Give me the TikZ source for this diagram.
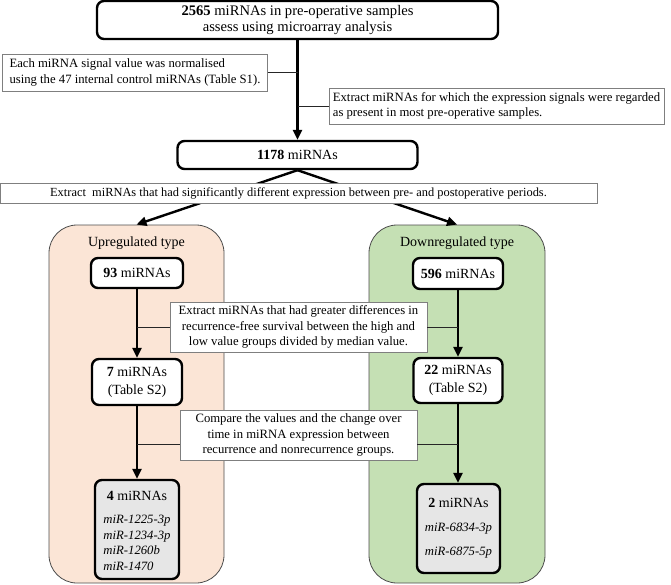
\documentclass[tikz,border=0pt]{standalone}
\usepackage{fontspec}
\setmainfont{Liberation Serif}
\usetikzlibrary{arrows.meta}
\definecolor{peach}{HTML}{FBE5D6}
\definecolor{lgreen}{HTML}{C5E0B4}
\definecolor{lgray}{HTML}{E6E6E6}
\definecolor{notegray}{HTML}{7F7F7F}
\begin{document}
\begin{tikzpicture}[x=1pt,y=-1pt,
  font=\fontsize{12.7}{15.5}\selectfont,
  big/.style={font=\fontsize{14}{18}\selectfont},
  mainbox/.style={draw=black, line width=2.4pt, rounded corners=7pt, fill=white, align=center, inner sep=0pt, big},
  notebox/.style={draw=notegray, line width=0.9pt, fill=white, inner sep=0pt},
  container/.style={draw=black!70, line width=0.8pt, rounded corners=28pt, inner sep=0pt},
  flow/.style={line width=2.4pt, -{Triangle[length=10pt,width=9pt]}},
  link/.style={line width=1pt, draw=black!85}]
\useasboundingbox (0,0) rectangle (671,584);

% containers
\node[container, fill=peach, minimum width=175pt, minimum height=358pt] (up) at (136.5,404) {};
\node[container, fill=lgreen, minimum width=176pt, minimum height=358pt] (down) at (457,404) {};
\node[big] (uplab) at (136.5,243) {Upregulated type};
\node[big] (downlab) at (457,243) {Downregulated type};

% top part
\node[mainbox, font=\fontsize{14.6}{16}\selectfont, minimum width=401pt, minimum height=38pt] (top) at (297.5,20)
  {\textbf{2565} miRNAs in pre-operative samples\\assess using microarray analysis};
\node[notebox, align=left, minimum width=265pt, minimum height=37pt] (note1) at (135,72.5)
  {Each miRNA signal value was normalised\\using the 47 internal control miRNAs (Table S1).};
\node[notebox, align=left, minimum width=335pt, minimum height=36pt] (note2) at (496.5,106)
  {Extract miRNAs for which the expression signals were regarded\\as present in most pre-operative samples.};
\node[mainbox, minimum width=240pt, minimum height=28pt] (n1178) at (297.5,155) {\textbf{1178} miRNAs};

\draw[flow] (top.south) -- (n1178.north);
\draw[link] (note1.east) -- (note1.east -| top.south);
\draw[link] (note2.west) -- (note2.west -| top.south);

\draw[flow] (n1178.south) -- (up.north);
\draw[flow] (n1178.south) -- (down.north);

\node[notebox, font=\fontsize{12.4}{15}\selectfont, minimum width=597pt, minimum height=20pt] (extract) at (298.5,193)
  {Extract~ miRNAs that had significantly different expression between pre- and postoperative periods.};

% upregulated column
\node[mainbox, minimum width=92pt, minimum height=30pt] (u93) at (137,273) {\textbf{93} miRNAs};
\node[mainbox, minimum width=90pt, minimum height=46pt] (u7) at (137,382) {\textbf{7} miRNAs\\(Table S2)};
\node[mainbox, fill=lgray, minimum width=84pt, minimum height=99pt] (u4) at (137,529.5) {};
\node[big, align=center, inner sep=0pt] (u4t) at (137,533)
  {\textbf{4} miRNAs\\[11pt]
   {\fontsize{12.7}{15.5}\selectfont\begin{tabular}{@{}l@{}}\itshape miR-1225-3p\\\itshape miR-1234-3p\\\itshape miR-1260b\\\itshape miR-1470\end{tabular}}};

% downregulated column
\node[mainbox, minimum width=90pt, minimum height=31pt] (d596) at (458,273.5) {\textbf{596} miRNAs};
\node[mainbox, minimum width=89pt, minimum height=45pt] (d22) at (458,380.5) {\textbf{22} miRNAs\\(Table S2)};
\node[mainbox, fill=lgray, minimum width=83pt, minimum height=89pt] (d2) at (458.5,528.5)
  {\textbf{2} miRNAs\\[6pt]{\fontsize{12.7}{15.5}\selectfont\itshape miR-6834-3p}\\[6pt]{\fontsize{12.7}{15.5}\selectfont\itshape miR-6875-5p}};

\draw[flow] (u93.south) -- (u7.north);
\draw[flow] (u7.south) -- (u7.south |- u4.north);
\draw[flow] (d596.south) -- (d596.south |- d22.north);
\draw[flow] (d22.south) -- (d22.south |- d2.north);

% middle notes
\node[notebox, align=center, minimum width=257pt, minimum height=50pt] (note3) at (298.5,327)
  {Extract miRNAs that had greater differences in\\recurrence-free survival between the high and\\low value groups divided by median value.};
\node[notebox, align=center, minimum width=237pt, minimum height=50pt] (note4) at (298.5,435)
  {Compare the values and the change over\\time in miRNA expression between\\recurrence and nonrecurrence groups.};

\draw[link] (note3.west) -- (note3.west -| u93.south);
\draw[link] (note3.east) -- (note3.east -| d596.south);
\coordinate (c4l) at ([yshift=-9pt]note4.west);
\coordinate (c4r) at ([yshift=-9pt]note4.east);
\draw[link] (c4l) -- (c4l -| u7.south);
\draw[link] (c4r) -- (c4r -| d22.south);
\end{tikzpicture}
\end{document}
